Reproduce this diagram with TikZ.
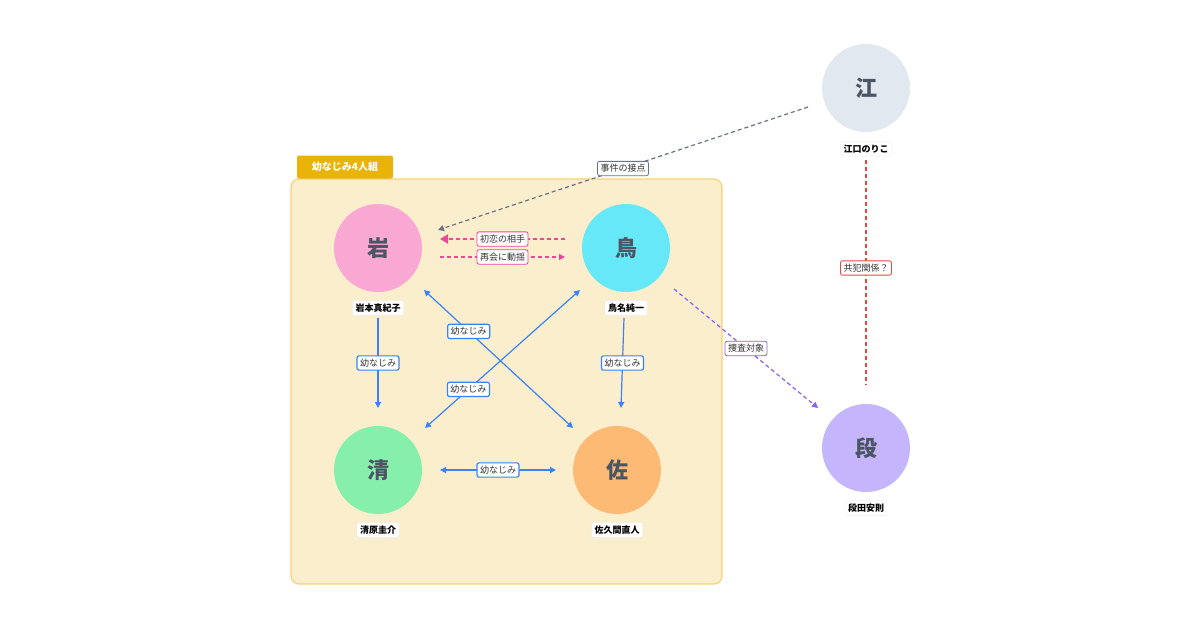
\documentclass[tikz,border=0pt]{standalone}
\usepackage{fontspec}
\setmainfont{Noto Sans CJK JP}
\usetikzlibrary{arrows.meta}
\definecolor{grpfill}{HTML}{FAEECD}
\definecolor{grpdraw}{HTML}{F5D27A}
\definecolor{tabcol}{HTML}{EAB308}
\definecolor{blueln}{HTML}{3B82F6}
\definecolor{pinkln}{HTML}{EC4899}
\definecolor{grayln}{HTML}{6B7280}
\definecolor{purpln}{HTML}{8B5CF6}
\definecolor{redln}{HTML}{EF4444}
\definecolor{txtcol}{HTML}{4B5563}
\definecolor{cIw}{HTML}{F9A8D4}
\definecolor{cTo}{HTML}{67E8F9}
\definecolor{cKi}{HTML}{86EFAC}
\definecolor{cSa}{HTML}{FDBA74}
\definecolor{cE}{HTML}{E2E8F0}
\definecolor{cD}{HTML}{C4B5FD}
\begin{document}
\begin{tikzpicture}[x=1pt,y=-1pt,
 person/.style={circle,minimum size=88pt,inner sep=0pt,font=\bfseries\fontsize{22}{24}\selectfont,text=txtcol},
 pname/.style={fill=white,draw=black!8,rounded corners=1.5pt,font=\bfseries\fontsize{9}{10}\selectfont,inner sep=3pt},
 lbl/.style={fill=white,draw=#1,rounded corners=2pt,font=\fontsize{9}{10}\selectfont,inner sep=3pt,text=black!80},
 bluearr/.style={draw=blueln,line width=1.2pt,-{Triangle[length=6pt,width=6pt]}},
 botharr/.style={draw=blueln,line width=1.2pt,{Triangle[length=6pt,width=6pt]}-{Triangle[length=6pt,width=6pt]}}]
\useasboundingbox (0,0) rectangle (1200,630);
\draw[draw=grpdraw,fill=grpfill,line width=1.2pt,rounded corners=8pt] (291,179) rectangle (722,584);
\node[fill=tabcol,rounded corners=2pt,text=white,font=\bfseries\fontsize{10}{12}\selectfont,minimum width=96pt,minimum height=23pt,inner sep=0pt] (grptab) at (345,167) {幼なじみ4人組};

\node[person,fill=cIw] (iw) at (378,248) {岩};
\node[person,fill=cTo] (to) at (626,248) {鳥};
\node[person,fill=cKi] (ki) at (378,470) {清};
\node[person,fill=cSa] (sa) at (617,470) {佐};
\node[person,fill=cE] (e) at (866,88) {江};
\node[person,fill=cD] (d) at (866,448) {段};

\node[pname] (niw) at (378,308) {岩本真紀子};
\node[pname] (nto) at (626,308) {鳥名純一};
\node[pname] (nki) at (378,530) {清原圭介};
\node[pname] (nsa) at (617,530) {佐久間直人};
\node[pname] (ne) at (866,149) {江口のりこ};
\node[pname] (nd) at (866,508) {段田安則};

\coordinate (a1) at (378,318); \coordinate (a2) at (378,408);
\coordinate (b1) at (624,318); \coordinate (b2) at (621,408);
\coordinate (c1) at (573,428); \coordinate (c2) at (424,290);
\coordinate (d1) at (425,428); \coordinate (d2) at (580,290);
\coordinate (f1) at (440,470); \coordinate (f2) at (556,470);
\draw[bluearr] (a1) -- node[lbl=blueln]{幼なじみ} (a2);
\draw[bluearr] (b1) -- node[lbl=blueln]{幼なじみ} (b2);
\draw[botharr] (c1) -- node[lbl=blueln,pos=0.7]{幼なじみ} (c2);
\draw[botharr] (d1) -- node[lbl=blueln,pos=0.28]{幼なじみ} (d2);
\draw[botharr] (f1) -- node[lbl=blueln]{幼なじみ} (f2);

\coordinate (p1) at (565,239); \coordinate (p2) at (440,239);
\coordinate (q1) at (440,257); \coordinate (q2) at (565,257);
\draw[draw=pinkln,line width=2pt,dash pattern=on 4pt off 3pt,-{Triangle[length=8pt,width=9pt]}] (p1) -- node[lbl=pinkln,line width=0.8pt,solid]{初恋の相手} (p2);
\draw[draw=pinkln,line width=1.2pt,dash pattern=on 4pt off 3pt,-{Triangle[length=6pt,width=6pt]}] (q1) -- node[lbl=pinkln,line width=0.8pt,solid]{再会に動揺} (q2);

\coordinate (g1) at (808,107); \coordinate (g2) at (438,230);
\draw[draw=grayln,line width=1.2pt,dash pattern=on 4pt off 3pt,-{Triangle[length=6pt,width=6pt]}] (g1) -- node[lbl=grayln,line width=0.8pt,solid,pos=0.5]{事件の接点} (g2);
\coordinate (h1) at (674,289); \coordinate (h2) at (818,408);
\draw[draw=purpln,line width=1.2pt,dash pattern=on 4pt off 3pt,-{Triangle[length=6pt,width=6pt]}] (h1) -- node[lbl=purpln,line width=0.8pt,solid]{捜査対象} (h2);
\coordinate (r1) at (866,160); \coordinate (r2) at (866,385);
\draw[draw=redln,line width=1.2pt,dash pattern=on 4pt off 3pt] (r1) -- node[lbl=redln,line width=0.8pt,solid,pos=0.48]{共犯関係？} (r2);
\end{tikzpicture}
\end{document}
